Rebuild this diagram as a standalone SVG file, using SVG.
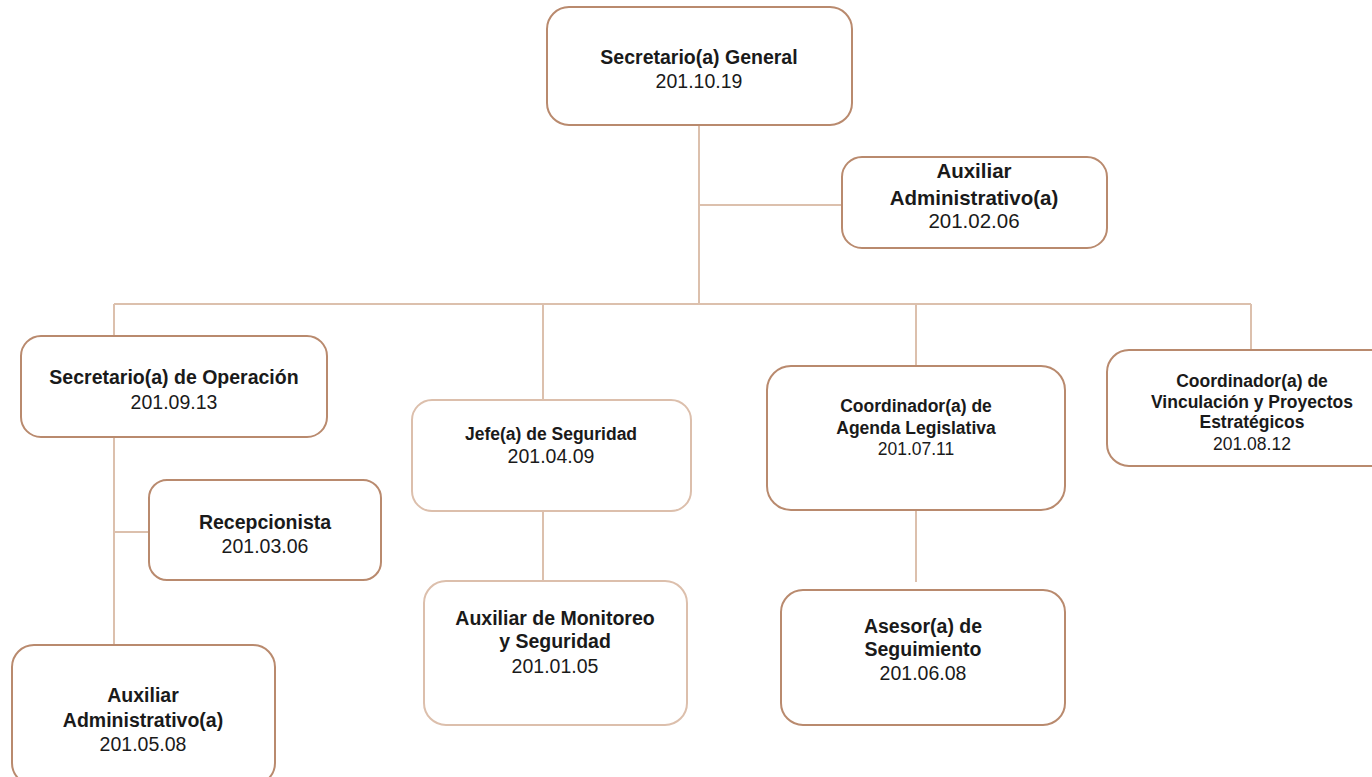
<svg xmlns="http://www.w3.org/2000/svg" width="1372" height="777" viewBox="0 0 1372 777">
  <style>
    .box { fill: #ffffff; stroke: #b98a6e; stroke-width: 2; }
    .box.light { stroke: #dcbfac; }
    .wire { fill: none; stroke: #dcc0ad; stroke-width: 2; }
    text { font-family: "Liberation Sans", Arial, sans-serif; fill: #1a1a1a; text-anchor: middle; }
    .t { font-weight: bold; font-size: 19.5px; }
    .s { font-weight: bold; font-size: 17.5px; }
    .d { font-size: 19.5px; }
    .ds { font-size: 17.5px; }
  </style>
  <rect width="1372" height="777" fill="#ffffff"/>

  <g id="connectors">
    <path class="wire" d="M699 125 V304"/>
    <path class="wire" d="M699 205 H842"/>
    <path class="wire" d="M114 304 H1251"/>
    <path class="wire" d="M114 304 V336"/>
    <path class="wire" d="M114 437 V655"/>
    <path class="wire" d="M114 532 H149"/>
    <path class="wire" d="M543 304 V400"/>
    <path class="wire" d="M543 511 V582"/>
    <path class="wire" d="M916 304 V366"/>
    <path class="wire" d="M916 510 V582"/>
    <path class="wire" d="M1251 304 V360"/>
  </g>

  <g id="secretario-general">
    <rect class="box" x="547" y="7" width="305" height="118" rx="22"/>
    <text class="t" x="699" y="64">Secretario(a) General</text>
    <text class="d" x="699" y="88">201.10.19</text>
  </g>

  <g id="auxiliar-administrativo-sg">
    <rect class="box" x="842" y="157" width="265" height="91" rx="20"/>
    <text class="t" x="974" y="178" style="font-size:20.5px">Auxiliar</text>
    <text class="t" x="974" y="205" style="font-size:20.5px">Administrativo(a)</text>
    <text class="d" x="974" y="228" style="font-size:20.5px">201.02.06</text>
  </g>

  <g id="secretario-operacion">
    <rect class="box" x="21" y="336" width="306" height="101" rx="20"/>
    <text class="t" x="174" y="384">Secretario(a) de Operación</text>
    <text class="d" x="174" y="409">201.09.13</text>
  </g>

  <g id="recepcionista">
    <rect class="box" x="149" y="480" width="232" height="100" rx="18"/>
    <text class="t" x="265" y="529">Recepcionista</text>
    <text class="d" x="265" y="553">201.03.06</text>
  </g>

  <g id="auxiliar-administrativo-op">
    <rect class="box" x="12" y="645" width="263" height="140" rx="22"/>
    <text class="t" x="143" y="702">Auxiliar</text>
    <text class="t" x="143" y="727">Administrativo(a)</text>
    <text class="d" x="143" y="751">201.05.08</text>
  </g>

  <g id="jefe-seguridad">
    <rect class="box light" x="412" y="400" width="279" height="111" rx="20"/>
    <text class="s" x="551" y="440">Jefe(a) de Seguridad</text>
    <text class="d" x="551" y="463">201.04.09</text>
  </g>

  <g id="auxiliar-monitoreo">
    <rect class="box light" x="424" y="581" width="263" height="144" rx="22"/>
    <text class="t" x="555" y="625">Auxiliar de Monitoreo</text>
    <text class="t" x="555" y="648">y Seguridad</text>
    <text class="d" x="555" y="673">201.01.05</text>
  </g>

  <g id="coordinador-agenda">
    <rect class="box" x="767" y="366" width="298" height="144" rx="24"/>
    <text class="s" x="916" y="412">Coordinador(a) de</text>
    <text class="s" x="916" y="434">Agenda Legislativa</text>
    <text class="ds" x="916" y="455">201.07.11</text>
  </g>

  <g id="asesor-seguimiento">
    <rect class="box" x="781" y="590" width="284" height="135" rx="22"/>
    <text class="t" x="923" y="633">Asesor(a) de</text>
    <text class="t" x="923" y="656">Seguimiento</text>
    <text class="d" x="923" y="680">201.06.08</text>
  </g>

  <g id="coordinador-vinculacion">
    <rect class="box" x="1107" y="350" width="285" height="116" rx="22"/>
    <text class="s" x="1252" y="387">Coordinador(a) de</text>
    <text class="s" x="1252" y="408">Vinculación y Proyectos</text>
    <text class="s" x="1252" y="428">Estratégicos</text>
    <text class="ds" x="1252" y="450">201.08.12</text>
  </g>
</svg>
